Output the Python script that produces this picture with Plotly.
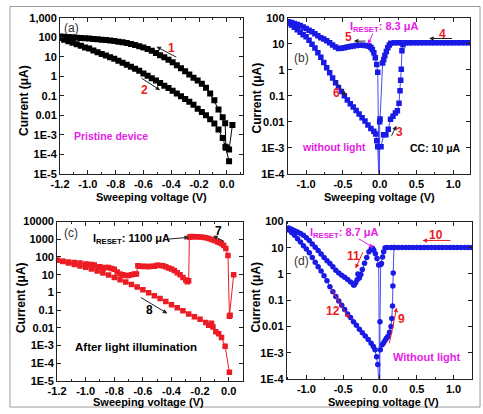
import plotly.graph_objects as go

FONT = "Liberation Sans, Arial, sans-serif"
BLUE = "#1a1ae6"
BLUE_LINE = "#4a4af5"
RED = "#ec1c24"
MAG = "#e620e6"

# ---------------- panel (a): pristine device ----------------
a_v1 = [0.04, 0.016, -0.007, -0.012, -0.03, -0.06, -0.09, -0.12, -0.15, -0.18, -0.21, -0.24, -0.27,
        -0.30, -0.33, -0.36, -0.39, -0.42, -0.45, -0.48, -0.51, -0.54, -0.57, -0.60, -0.63, -0.66,
        -0.69, -0.72, -0.75, -0.78, -0.81, -0.84, -0.87, -0.90, -0.93, -0.96, -0.99, -1.02, -1.05,
        -1.08, -1.11, -1.14, -1.17, -1.20]
a_i1 = [3.2e-3, 1.8e-4, 2.2e-4, 4e-3, 0.008, 0.02, 0.06, 0.13, 0.26, 0.42, 0.6, 0.85, 1.25,
        1.8, 2.6, 3.7, 5.2, 7, 9.3, 12, 15.5, 20, 25, 30, 34.5, 39.5,
        44.5, 50, 54.5, 59, 63, 67, 71, 74.5, 78, 82, 85, 88, 91.5,
        95, 99, 102, 106, 110]
a_v2 = [-1.20, -1.17, -1.14, -1.11, -1.08, -1.05, -1.02, -0.99, -0.96, -0.93, -0.90, -0.87, -0.84,
        -0.81, -0.78, -0.75, -0.72, -0.69, -0.66, -0.63, -0.60, -0.57, -0.54, -0.51, -0.48, -0.45,
        -0.42, -0.39, -0.36, -0.33, -0.30, -0.27, -0.24, -0.21, -0.18, -0.15, -0.12, -0.09, -0.06,
        -0.03, -0.01, 0.016]
a_i2 = [90, 74, 62, 52, 43, 36, 30, 26, 21, 17, 14, 11.6, 9.5,
        7.8, 6.2, 4.9, 3.9, 3.1, 2.4, 1.9, 1.4, 1.05, 0.8, 0.6, 0.45, 0.33,
        0.25, 0.18, 0.13, 0.095, 0.068, 0.05, 0.035, 0.022, 0.015, 0.01, 0.0063, 0.0038, 0.0019,
        7e-4, 2.5e-4, 4.5e-5]

# ---------------- panel (b): without light ----------------
b_v3 = [0.018, 0.053, 0.084, 0.116, 0.147, 0.18, 0.213, 0.24, 0.262, 0.276, 0.285, 0.293, 0.302, 0.316]
b_i3 = [1.1e-3, 3.2e-3, 3.2e-3, 5.2e-3, 0.0126, 0.0166, 0.022, 0.027, 0.052, 0.155, 0.4, 1.05, 5.4, 9.1]
b_v4 = [1.25, 1.20, 1.15, 1.10, 1.05, 1.00, 0.95, 0.90, 0.85, 0.80, 0.75, 0.70, 0.65, 0.60, 0.55,
        0.50, 0.45, 0.40, 0.35, 0.30, 0.25, 0.20, 0.15, 0.13, 0.11, 0.09, 0.07, 0.055, 0.04,
        0.005, 0.0, -0.005]
b_i4 = [10.8, 10.8, 10.8, 10.8, 10.8, 10.8, 10.8, 10.8, 10.8, 10.8, 10.8, 10.8, 10.8, 10.8, 10.8,
        10.8, 10.8, 10.8, 10.8, 10.8, 10.8, 10.8, 10.5, 9, 7, 5, 3.5, 2.5, 1.8,
        0.013, 0.01, 1e-5]
b_v5 = [-0.027, -0.04, -0.06, -0.08, -0.10, -0.12, -0.14, -0.16, -0.20, -0.24, -0.28, -0.32,
        -0.36, -0.40, -0.44, -0.48, -0.52, -0.56, -0.60, -0.64, -0.68, -0.72, -0.76, -0.80,
        -0.84, -0.88, -0.92, -0.96, -1.00, -1.04, -1.08, -1.12, -1.16, -1.20, -1.24]
b_i5 = [0.8, 1.6, 2.9, 4.5, 6.0, 7.2, 8.0, 8.3, 8.6, 8.8, 8.8, 8.6,
        8.2, 7.8, 7.4, 7.0, 6.7, 6.5, 7.5, 9.0, 11, 13, 15, 17,
        20, 24, 29, 33, 38, 44, 50, 55, 60, 65, 70]
b_v6 = [-1.24, -1.20, -1.16, -1.12, -1.08, -1.04, -1.00, -0.96, -0.92, -0.88, -0.84, -0.80,
        -0.76, -0.72, -0.68, -0.64, -0.60, -0.56, -0.52, -0.48, -0.44, -0.40, -0.36, -0.32,
        -0.28, -0.24, -0.20, -0.16, -0.12, -0.08, -0.055, -0.04, -0.027, 0.0]
b_i6 = [63, 52, 43, 34, 27.5, 22, 18.6, 13.5, 9.5, 6.8, 4.5, 3.0,
        1.9, 1.2, 0.76, 0.48, 0.32, 0.21, 0.145, 0.1, 0.069, 0.05, 0.037, 0.0275,
        0.02, 0.0144, 0.0107, 0.0076, 0.0056, 0.0044, 0.0034, 0.0019, 0.0011, 1e-5]

# ---------------- panel (c): after light illumination ----------------
c_v7 = [0.035, 0.01, 0.005, -0.005, -0.02, -0.035, -0.05, -0.065, -0.08, -0.10, -0.12, -0.14,
        -0.16, -0.18, -0.20, -0.22, -0.24, -0.255, -0.265, -0.275]
c_i7 = [10, 0.05, 0.045, 120, 300, 450, 560, 650, 720, 850, 980, 1100,
        1200, 1280, 1330, 1380, 1400, 1420, 1380, 1300]
c_v7b = [-0.28, -0.29, -0.30, -0.32, -0.34, -0.36, -0.38, -0.40, -0.42, -0.44, -0.46, -0.48,
         -0.50, -0.52, -0.54, -0.56, -0.58, -0.60, -0.62, -0.635, -0.645, -0.66, -0.68, -0.70,
         -0.72, -0.74, -0.76, -0.78, -0.80, -0.82, -0.84, -0.86, -0.88, -0.90, -0.92, -0.94,
         -0.96, -0.98, -1.00, -1.04, -1.08, -1.12, -1.16, -1.20]
c_i7b = [4.5, 4.0, 5, 7, 10, 13, 17, 21, 24, 28, 32, 33,
         34, 30, 30, 28, 30, 29, 30, 32, 11, 11, 10, 9,
         9, 10, 11, 14, 20, 22, 25, 25, 22, 28, 26, 35,
         38, 37, 40, 45, 48, 52, 58, 65]
c_v8 = [-1.20, -1.16, -1.12, -1.08, -1.04, -1.00, -0.96, -0.92, -0.88, -0.84, -0.80, -0.76,
        -0.72, -0.68, -0.64, -0.60, -0.56, -0.52, -0.48, -0.44, -0.40, -0.36, -0.32, -0.28,
        -0.24, -0.20, -0.16, -0.14, -0.12, -0.11, -0.09, -0.07, -0.05, -0.025, 0.005]
c_i8 = [65, 55, 46, 38, 31, 26, 21, 16, 12.5, 9.5, 7, 5.2,
        3.9, 2.8, 2.0, 1.4, 0.95, 0.65, 0.45, 0.3, 0.2, 0.135, 0.09, 0.06,
        0.042, 0.03, 0.02, 0.014, 0.018, 0.011, 0.006, 0.0045, 0.0028, 9e-4, 3e-5]

# ---------------- panel (d): without light ----------------
d_v9 = [0.005, 0.03, 0.05, 0.07, 0.09, 0.11, 0.13, 0.15, 0.16, 0.17, 0.175, 0.18, 0.19]
d_i9 = [1.3e-3, 2.0e-3, 2.4e-3, 3.0e-3, 3.6e-3, 4.2e-3, 6.0e-3, 0.01, 0.02, 0.06, 0.35, 1.1, 10.3]
d_v10 = [1.25, 1.20, 1.15, 1.10, 1.05, 1.00, 0.95, 0.90, 0.85, 0.80, 0.75, 0.70, 0.65, 0.60,
         0.55, 0.50, 0.45, 0.40, 0.35, 0.30, 0.25, 0.20, 0.15, 0.10, 0.07, 0.05, 0.035, 0.02,
         0.01, 0.0, -0.003]
d_i10 = [10.3, 10.3, 10.3, 10.3, 10.3, 10.3, 10.3, 10.3, 10.3, 10.3, 10.3, 10.3, 10.3, 10.3,
         10.3, 10.3, 10.3, 10.3, 10.3, 10.3, 10.3, 10.3, 10.3, 10.3, 10.0, 7, 4.5, 2.5,
         2.3, 0.015, 1e-5]
d_v11 = [-0.018, -0.04, -0.062, -0.084, -0.10, -0.12, -0.15, -0.18, -0.21, -0.24, -0.26, -0.28,
         -0.29, -0.30, -0.31, -0.33, -0.35, -0.36, -0.40, -0.44, -0.48, -0.52, -0.56, -0.60,
         -0.64, -0.68, -0.72, -0.76, -0.80, -0.84, -0.88, -0.92, -0.96, -1.00, -1.04, -1.08,
         -1.12, -1.16, -1.20, -1.24]
d_i11 = [2.2, 3.9, 5.9, 8.0, 9.5, 9.0, 7.0, 4.3, 2.6, 1.5, 0.95, 0.7,
         0.95, 1.0, 0.6, 0.46, 0.38, 0.38, 0.5, 0.62, 0.75, 0.9, 1.1, 1.4,
         1.9, 2.5, 3.2, 4.3, 5.8, 7.8, 10.5, 14, 19, 24, 30, 35,
         40, 45, 51, 57]
d_v12 = [-1.24, -1.20, -1.16, -1.12, -1.08, -1.04, -1.00, -0.96, -0.92, -0.88, -0.84, -0.80,
         -0.76, -0.72, -0.68, -0.64, -0.60, -0.56, -0.52, -0.48, -0.44, -0.40, -0.36, -0.32,
         -0.28, -0.24, -0.20, -0.16, -0.12, -0.09, -0.067, -0.045, -0.03, 0.0]
d_i12 = [48, 38, 30, 22, 16.5, 12, 8.9, 6.4, 4.3, 2.8, 1.9, 1.3,
         0.85, 0.55, 0.33, 0.21, 0.14, 0.093, 0.064, 0.044, 0.03, 0.022, 0.015, 0.011,
         0.0078, 0.0057, 0.0043, 0.0032, 0.0023, 0.0017, 0.0013, 7e-4, 3.5e-4, 1e-5]

# tick labels
y_ticks_a = [1e-5, 1e-4, 1e-3, 0.01, 0.1, 1, 10, 100, 1000]
y_text_a = ["1E-5", "1E-4", "1E-3", "0.01", "0.1", "1", "10", "100", "1,000"]
y_ticks_bd = [1e-4, 1e-3, 0.01, 0.1, 1, 10, 100]
y_text_bd = ["1E-4", "1E-3", "0.01", "0.1", "1", "10", "100"]
y_ticks_c = [1e-5, 1e-4, 1e-3, 0.01, 0.1, 1, 10, 100, 1000, 10000]
y_text_c = ["1E-5", "1E-4", "1E-3", "0.01", "0.1", "1", "10", "100", "1000", "10000"]
x_ticks_ac = [-1.2, -1.0, -0.8, -0.6, -0.4, -0.2, 0.0]
x_text_ac = ["-1.2", "-1.0", "-0.8", "-0.6", "-0.4", "-0.2", "0.0"]
x_ticks_bd = [-1.0, -0.5, 0.0, 0.5, 1.0]
x_text_bd = ["-1.0", "-0.5", "0.0", "0.5", "1.0"]

W, H = 483, 414

fig = go.Figure()


def add_series(xs, ys, color, lcolor, symbol, size, xa, ya):
    fig.add_trace(go.Scatter(x=xs, y=ys, mode="lines+markers", xaxis=xa, yaxis=ya,
                             line=dict(color=lcolor, width=1),
                             marker=dict(symbol=symbol, size=size, color=color, line=dict(width=0)),
                             showlegend=False))


add_series(a_v1 + a_v2, a_i1 + a_i2, "black", "black", "square", 6, "x", "y")
add_series(b_v3 + b_v4 + b_v5 + b_v6, b_i3 + b_i4 + b_i5 + b_i6, BLUE, BLUE_LINE, "square", 5.5, "x2", "y2")
add_series(c_v7 + c_v7b + c_v8, c_i7 + c_i7b + c_i8, RED, RED, "square", 5.5, "x3", "y3")
add_series(d_v9 + d_v10 + d_v11 + d_v12, d_i9 + d_i10 + d_i11 + d_i12, BLUE, BLUE_LINE, "circle", 5.5, "x4", "y4")

tickfont = dict(family=FONT, size=11, color="black", weight="bold")


def xax(domain, rng, tv, tt, mdt, anchor):
    return dict(domain=domain, range=rng, anchor=anchor, tickmode="array", tickvals=tv, ticktext=tt,
                ticks="inside", ticklen=4, tickwidth=1, tickcolor="#222", showline=True,
                linecolor="#222", linewidth=1, mirror="ticks", showgrid=False, zeroline=False,
                tickfont=tickfont,
                minor=dict(tick0=0, dtick=mdt, ticks="inside", ticklen=2, tickcolor="#222", showgrid=False))


def yax(domain, rng, tv, tt, anchor):
    return dict(domain=domain, type="log", range=rng, anchor=anchor, tickmode="array", tickvals=tv,
                ticktext=tt, ticks="inside", ticklen=4, tickwidth=1, tickcolor="#222", showline=True,
                linecolor="#222", linewidth=1, mirror="ticks", showgrid=False, zeroline=False,
                tickfont=tickfont)


def px(x):
    return x / W


def py(y):
    return 1 - y / H


fig.update_layout(
    width=W, height=H, autosize=False, margin=dict(l=0, r=0, t=0, b=0),
    paper_bgcolor="white", plot_bgcolor="white",
    xaxis=xax([px(52), px(238)], [-1.2, 0.113], x_ticks_ac, x_text_ac, 0.1, "y"),
    yaxis=yax([py(173), py(12)], [-5, 3], y_ticks_a, y_text_a, "x"),
    xaxis2=xax([px(284), px(470)], [-1.25, 1.23], x_ticks_bd, x_text_bd, 0.25, "y2"),
    yaxis2=yax([py(173), py(12)], [-4, 2], y_ticks_bd, y_text_bd, "x2"),
    xaxis3=xax([px(49), px(238)], [-1.2, 0.097], x_ticks_ac, x_text_ac, 0.1, "y3"),
    yaxis3=yax([py(386), py(222)], [-5, 4], y_ticks_c, y_text_c, "x3"),
    xaxis4=xax([px(283), px(472)], [-1.267, 1.253], x_ticks_bd, x_text_bd, 0.25, "y4"),
    yaxis4=yax([py(384), py(222)], [-4, 2], y_ticks_bd, y_text_bd, "x4"),
)

ann = []


def text(xr, yr, x, y, t, color, size=11, bold=True, angle=0):
    ann.append(dict(xref=xr, yref=yr, x=x, y=y, text=t, showarrow=False, textangle=angle,
                    xanchor="center", yanchor="middle",
                    font=dict(family=FONT, size=size, color=color, weight="bold" if bold else "normal")))


def arrow(xr, yr, hx, hy, tx, ty, color):
    ann.append(dict(xref=xr, yref=yr, axref=xr, ayref=yr, x=hx, y=hy, ax=tx, ay=ty, text="",
                    showarrow=True, arrowhead=2, arrowsize=0.9, arrowwidth=1, arrowcolor=color))


# axis titles
for cx, cy in [(145, 197), (378, 197), (142, 407.5), (382, 407.5)]:
    text("paper", "paper", px(cx), py(cy), "Sweeping voltage (V)", "black", 11)
for cx, cy in [(15, 97), (253, 95), (13, 300), (252, 300)]:
    text("paper", "paper", px(cx), py(cy), "Current (\u03bcA)", "black", 12, angle=-90)

# panel (a)
text("x", "y", -1.118, 2.46, "(a)", "#333", 12, bold=False)
text("x", "y", -0.40, 1.47, "1", RED, 12)
arrow("x", "y", -0.506, 1.51, -0.353, 0.94, "#222")
text("x", "y", -0.59, -0.68, "2", RED, 12)
arrow("x", "y", -0.48, -0.71, -0.624, -0.05, "#222")
text("x", "y", -0.835, -3.06, "Pristine device", MAG, 10.5)

# panel (b)
text("x2", "y2", -1.06, 0.46, "(b)", "#333", 12, bold=False)
text("x2", "y2", 0.067, 1.63, "I<sub>RESET</sub>: 8.3 \u03bcA", MAG, 11)
arrow("x2", "y2", -0.16, 0.98, -0.084, 1.45, MAG)
text("x2", "y2", -0.418, 1.27, "5", RED, 12)
arrow("x2", "y2", -0.351, 1.1, -0.173, 1.1, "#222")
text("x2", "y2", 0.849, 1.39, "4", RED, 12)
arrow("x2", "y2", 0.671, 1.2, 1.004, 1.2, "#222")
text("x2", "y2", -0.587, -0.91, "6", RED, 12)
arrow("x2", "y2", -0.462, -1.01, -0.618, -0.35, "#222")
text("x2", "y2", 0.271, -2.40, "3", RED, 12)
arrow("x2", "y2", 0.227, -2.15, 0.151, -2.59, "#222")
text("x2", "y2", -0.618, -2.96, "without light", MAG, 10.5)
text("x2", "y2", 0.76, -2.99, "CC: 10 \u03bcA", "black", 10.5)

# panel (c)
text("x3", "y3", -1.10, 3.34, "(c)", "#333", 12, bold=False)
text("x3", "y3", -0.681, 3.02, "I<sub>RESET</sub>: 1100 \u03bcA", "black", 11)
arrow("x3", "y3", -0.278, 3.11, -0.433, 3.0, "#222")
text("x3", "y3", -0.069, 3.46, "7", "black", 12)
arrow("x3", "y3", -0.109, 3.2, -0.023, 2.84, "#222")
text("x3", "y3", -0.556, -1.01, "8", "black", 12)
arrow("x3", "y3", -0.429, -1.19, -0.625, -0.24, "#222")
text("x3", "y3", -0.649, -3.07, "After light illumination", "black", 11.5)

# panel (d)
text("x4", "y4", -1.067, 0.51, "(d)", "#333", 12, bold=False)
text("x4", "y4", -0.476, 1.57, "I<sub>RESET</sub>: 8.7 \u03bcA", MAG, 11)
arrow("x4", "y4", -0.089, 1.01, -0.31, 1.38, MAG)
text("x4", "y4", 0.756, 1.5, "10", RED, 12)
arrow("x4", "y4", 0.578, 1.28, 0.978, 1.28, RED)
text("x4", "y4", -0.356, 0.70, "11", RED, 12)
arrow("x4", "y4", -0.333, 0.21, -0.222, 0.89, RED)
text("x4", "y4", -0.644, -1.40, "12", RED, 12)
arrow("x4", "y4", -0.422, -1.71, -0.667, -0.54, RED)
text("x4", "y4", 0.289, -1.71, "9", RED, 12)
arrow("x4", "y4", 0.227, -1.28, 0.124, -2.70, RED)
text("x4", "y4", 0.627, -3.16, "Without light", MAG, 11)

fig.update_layout(annotations=ann)
fig.add_shape(type="rect", xref="paper", yref="paper", x0=px(1), x1=px(480), y0=py(413), y1=py(0.5),
              line=dict(color="#999", width=1), fillcolor="rgba(0,0,0,0)", layer="above")

fig.write_html("out.html")
